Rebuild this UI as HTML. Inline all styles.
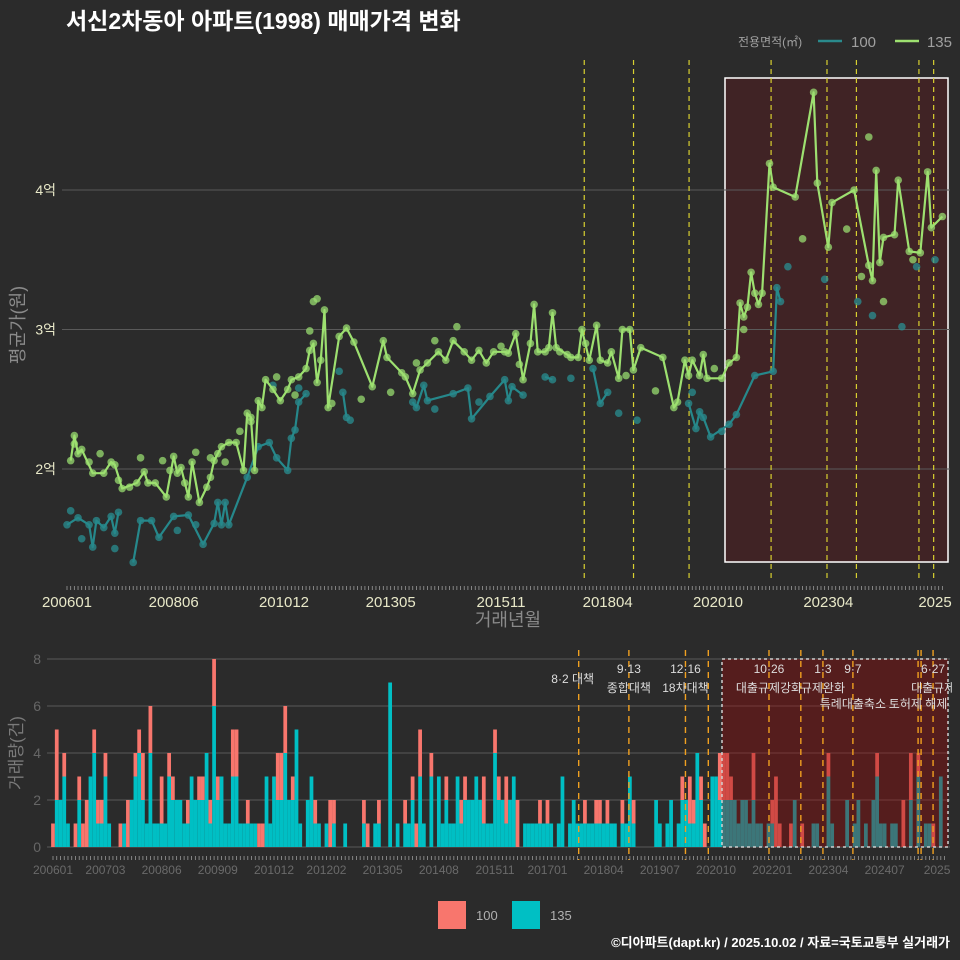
<!DOCTYPE html>
<html><head><meta charset="utf-8">
<style>
html,body{margin:0;padding:0;background:#2b2b2b;}
svg{display:block;font-family:"Liberation Sans","Noto Sans CJK KR",sans-serif;}
</style></head>
<body>
<svg id="chart" width="960" height="960" viewBox="0 0 960 960" xmlns="http://www.w3.org/2000/svg">
<rect x="0" y="0" width="960" height="960" fill="#2b2b2b"/>
<text x="66" y="29" fill="#ffffff" font-size="23" font-weight="bold">서신2차동아 아파트(1998) 매매가격 변화</text>
<g>
<text x="738" y="46" fill="#a0a0a0" font-size="12">전용면적(㎡)</text>
<line x1="818" y1="41" x2="842" y2="41" stroke="#2a8a8c" stroke-width="2.5"/>
<text x="851" y="47" fill="#a0a0a0" font-size="15">100</text>
<line x1="895" y1="41" x2="919" y2="41" stroke="#9de070" stroke-width="2.5"/>
<text x="952" y="47" fill="#a0a0a0" font-size="15" text-anchor="end">135</text>
</g>
<g id="topPanel"></g>
<g id="botPanel"></g>
<text transform="translate(24,325) rotate(-90)" fill="#8a8a8a" font-size="18" text-anchor="middle">평균가(원)</text>
<text x="508" y="626" fill="#8a8a8a" font-size="18" text-anchor="middle">거래년월</text>
<text transform="translate(22,753) rotate(-90)" fill="#7a7a7a" font-size="17" text-anchor="middle">거래량(건)</text>
<g>
<rect x="438" y="901" width="28" height="28" fill="#f8766d"/>
<text x="476" y="920" fill="#b0b0b0" font-size="13">100</text>
<rect x="512" y="901" width="28" height="28" fill="#00bfc4"/>
<text x="550" y="920" fill="#b0b0b0" font-size="13">135</text>
</g>
<text x="950" y="947" fill="#ffffff" font-size="13" font-weight="bold" text-anchor="end">©디아파트(dapt.kr) / 2025.10.02 / 자료=국토교통부 실거래가</text>
</svg>
<script>
// ---- data (month index from 2006-01) ----
const m135 = [1,2,3,4,7,10,12,13,15,19,21,22,24,27,29,30,31,33,34,36,38,39,40,41,42,44,46,48,49,50,51,52,53,54,56,58,60,61,63,65,66,67,68,69,70,71,74,76,78,83,86,87,91,92,94,96,98,101,103,105,108,110,112,114,116,119,120,122,124,126,127,128,130,131,132,133,136,137,139,140,142,144,145,147,148,150,151,153,154,156,162,165,166,168,169,170,172,173,174,178,180,182,183,184,185,186,187,188,189,191,192,198,203,204,207,208,214,218,219,220,221,222,225,226,229,232,234,235,238];
const p135 = [2.06,2.24,2.11,2.14,1.97,1.97,2.05,2.03,1.86,1.90,1.98,1.90,1.90,1.80,2.09,1.97,2.01,1.80,2.05,1.76,1.87,1.94,2.06,2.11,2.16,2.19,2.19,1.99,2.40,2.37,1.99,2.49,2.44,2.64,2.57,2.49,2.57,2.64,2.66,2.72,2.85,2.90,2.62,2.78,3.14,2.44,2.95,3.01,2.91,2.59,2.92,2.80,2.69,2.66,2.54,2.71,2.76,2.84,2.78,2.92,2.84,2.78,2.85,2.76,2.84,2.84,2.83,2.97,2.64,2.90,3.18,2.84,2.84,2.87,3.12,2.87,2.82,2.80,2.80,3.00,2.78,3.03,2.78,2.76,2.84,2.65,3.00,3.00,2.71,2.87,2.80,2.44,2.48,2.78,2.67,2.78,2.67,2.82,2.65,2.65,2.76,2.80,3.19,3.09,3.16,3.41,3.26,3.18,3.26,4.19,4.02,3.95,4.70,4.05,3.59,3.91,4.00,3.46,3.35,4.14,3.48,3.66,3.68,4.07,3.56,3.55,4.13,3.73,3.81];
const m100 = [0,3,6,7,8,10,12,13,14,null,18,20,23,25,29,33,37,40,41,42,43,44,49,52,55,57,60,61,62,63,65,null,75,76,null,94,95,97,98,105,109,110,115,119,120,121,124,null,130,132,null,143,145,147,null,169,171,172,173,175,180,182,187,192,193,194];
const p100 = [1.60,1.65,1.60,1.44,1.63,1.58,1.66,1.54,1.69,null,1.33,1.63,1.63,1.51,1.66,1.67,1.46,1.61,1.76,1.60,1.76,1.60,1.94,2.16,2.19,2.08,1.99,2.22,2.28,2.48,2.54,null,2.55,2.37,null,2.48,2.44,2.60,2.49,2.54,2.58,2.36,2.52,2.64,2.49,2.59,2.53,null,2.66,2.64,null,2.72,2.47,2.55,null,2.47,2.29,2.41,2.37,2.23,2.32,2.39,2.67,2.70,3.30,3.20];
const xm135 = [2,6,9,14,17,20,26,28,32,35,39,43,47,50,57,62,66,67,68,72,80,88,95,100,106,118,123,134,141,152,160,176,184,200,212,216,218,222,230];
const xp135 = [2.18,2.05,2.11,1.92,1.87,2.08,2.06,1.99,1.90,2.12,2.08,2.05,2.27,2.34,2.66,2.53,2.99,3.20,3.22,2.47,2.50,2.55,2.76,2.92,3.02,2.88,2.75,2.84,2.90,2.67,2.56,2.72,3.00,3.65,3.72,3.38,4.38,3.20,3.50];
const xm100 = [1,4,13,30,35,56,63,74,77,100,112,137,150,155,170,178,196,206,215,219,227,231,236];
const xp100 = [1.70,1.50,1.43,1.56,1.60,2.60,2.58,2.70,2.35,2.43,2.48,2.65,2.40,2.35,2.55,2.27,3.45,3.36,3.20,3.10,3.02,3.45,3.50];
const yTicks = [2,3,4];
const yTickLabels = ["2억","3억","4억"];
const xTickMonths = [0,29,59,88,118,147,177,207,236];
const xTickLabels = ["200601","200806","201012","201305","201511","201804","202010","202304","2025"];
const c100 = [1,3,0,1,0,0,1,1,1,2, 0,1,1,1,1,0,0,0,1,0, 2,0,1,1,2,0,2,0,0,2, 0,1,1,0,0,0,1,0,0,1, 1,0,1,2,1,0,0,0,2,2, 0,0,1,0,0,1,1,0,0,0, 2,2,2,0,1,0,0,0,0,0, 1,0,0,0,2,1,0,0,0,0, 0,0,0,1,1,0,0,1,0,0, 0,0,0,0,1,0,1,1,2,0, 0,1,0,0,0,1,0,0,0,1, 1,0,0,0,0,2,0,0,1,1, 0,2,0,0,2,0,0,0,0,0, 1,0,1,0,0,0,0,0,0,0, 0,0,1,0,0,1,1,0,1,0, 0,0,1,0,0,1,0,0,0,0, 0,0,0,0,0,0,0,0,1,0, 2,1,0,1,1,0,0,0,2,2, 2,1,0,0,0,0,0,2,0,0, 0,0,1,3,1,0,0,1,0,0, 1,0,0,0,0,0,0,1,0,0, 0,0,0,0,0,0,0,0,0,0, 1,0,0,0,0,0,0,2,0,2, 0,1,0,0,0,1,0,0];
const c135 = [0,2,2,3,1,0,0,2,0,0, 3,4,1,1,3,1,0,0,0,1, 0,2,3,4,2,1,4,1,1,1, 1,3,2,2,2,1,1,3,2,2, 2,4,1,6,2,3,1,1,3,3, 1,1,1,1,1,0,0,3,1,3, 2,2,4,2,2,5,1,0,2,3, 1,1,0,1,0,1,0,0,1,0, 0,0,0,1,0,0,1,1,0,0, 7,0,1,0,1,1,2,0,3,1, 0,3,0,3,1,2,1,1,3,1, 2,2,2,3,2,1,1,1,4,2, 2,1,2,3,0,0,1,1,1,1, 1,1,1,1,0,1,3,0,1,2, 1,1,1,1,1,1,1,1,1,1, 1,0,1,1,3,1,0,0,0,0, 0,2,1,0,1,2,0,1,2,2, 1,1,4,2,0,0,3,3,2,2, 2,2,2,1,2,2,1,2,1,1, 0,1,1,0,0,0,0,0,2,0, 0,0,0,1,1,0,0,3,1,0, 0,0,2,0,1,2,0,1,0,2, 3,1,1,0,1,1,0,0,0,2, 0,3,0,1,1,0,0,3];
const vTicks = [0,2,4,6,8];
const vTickMonths = [0,14,29,44,59,73,88,103,118,132,147,162,177,192,207,222,236];
const vTickLabels = ["200601","200703","200806","200909","201012","201202","201305","201408","201511","201701","201804","201907","202010","202201","202304","202407","2025"];
const topEvents = [139.0,152.4,167.5,189.8,205.0,213.0,230.0,234.0];
const botEvents = [139.0,152.4,167.5,173.6,189.8,198.3,204.2,212.2,229.6,230.4,233.6];
const eventTitles = ["8·2 대책","9·13","12·16","10·26","1·3","9·7","6·27"];
const eventMonths = [139.0,152.4,167.5,189.8,204.2,212.2,233.6];
const eventSubs = ["","종합대책","18차대책","대출규제강화","규제완화","특례대출축소",""];

const NS="http://www.w3.org/2000/svg";
function mk(parent,tag,attrs){const e=document.createElementNS(NS,tag);for(const k in attrs)e.setAttribute(k,attrs[k]);parent.appendChild(e);return e;}
const xT = m => 67 + m*3.678;
const yT = v => 190 + (4 - v)*139.5;
const xB = m => 53 + m*3.746;
const yB = v => 847 - v*23.5;
const evT = m => xT(m) + 6;
const evB = m => xB(m) + 5;

const topG=document.getElementById('topPanel');
const botG=document.getElementById('botPanel');

// ---- top panel ----
let r=mk(topG,'rect',{x:725,y:78,width:223,height:484,fill:'rgba(140,10,20,0.22)',stroke:'#ffffff','stroke-width':1.5});


yTicks.forEach((v,i)=>{
  const l=mk(topG,'line',{x1:62,x2:950,y1:yT(v),y2:yT(v),stroke:'#5a5a5a','stroke-width':1});
  
  
  const t=mk(topG,'text',{x:56,y:yT(v)+5,fill:'#e8e8c8','font-size':14,'text-anchor':'end'});
  t.textContent=yTickLabels[i];
  
  
});
for(let m=0;m<=238;m++){
  const l=mk(topG,'line',{x1:xT(m),x2:xT(m),y1:586,y2:590,stroke:'#9a9a9a','stroke-width':0.8});
  
  
}
xTickMonths.forEach((m,i)=>{
  const t=mk(topG,'text',{x:xT(m),y:607,fill:'#e8e8c8','font-size':15,'text-anchor':'middle'});
  t.textContent=xTickLabels[i];
  
  
});
topEvents.forEach(m=>{
  const l=mk(topG,'line',{x1:evT(m),x2:evT(m),y1:60,y2:580,stroke:'#d8d030','stroke-width':1.2,'stroke-dasharray':'5,4'});
  
  
});
function drawSeries(ms,ps,xms,xps,lineColor,ptColor,name){
  let d='',pen=false;
  ms.forEach((m,i)=>{ if(m===null||ps[i]===null){pen=false;return;} d+=(pen?'L':'M')+xT(m).toFixed(1)+','+yT(ps[i]).toFixed(1); pen=true; });
  xms.forEach((m,i)=>{
    const c=mk(topG,'circle',{cx:xT(m),cy:yT(xps[i]),r:3.8,fill:ptColor,opacity:0.75});
    
    
  });
  ms.forEach((m,i)=>{ if(m===null)return;
    const c=mk(topG,'circle',{cx:xT(m),cy:yT(ps[i]),r:3.8,fill:ptColor,opacity:0.75});
    
    
  });
  const p=mk(topG,'path',{d:d,fill:'none',stroke:lineColor,'stroke-width':2.2,'stroke-linejoin':'round'});
  
  
}
drawSeries(m100,p100,xm100,xp100,'#26888b','#2a8f92','100');
drawSeries(m135,p135,xm135,xp135,'#9de070','#98dc70','135');

// ---- bottom panel ----
vTicks.forEach(v=>{
  const l=mk(botG,'line',{x1:47,x2:950,y1:yB(v),y2:yB(v),stroke:'#5a5a5a','stroke-width':1});
  
  
  const t=mk(botG,'text',{x:41,y:yB(v)+5,fill:'#666666','font-size':14,'text-anchor':'end'});
  t.textContent=v;
  
  
});
const bw=3.746;
c135.forEach((c,i)=>{
  if(c>0){const b=mk(botG,'rect',{x:xB(i)-bw/2,y:yB(c),width:bw,height:c*23.5,fill:'#00bfc4'});
  
  }
  const c1=c100[i];
  if(c1>0){const b=mk(botG,'rect',{x:xB(i)-bw/2,y:yB(c+c1),width:bw,height:c1*23.5,fill:'#f8766d'});
  
  }
});
r=mk(botG,'rect',{x:722,y:659,width:226,height:188,fill:'rgba(150,10,10,0.4)',stroke:'#cfcfcf','stroke-width':1.5,'stroke-dasharray':'3,3'});


botEvents.forEach(m=>{
  const l=mk(botG,'line',{x1:evB(m),x2:evB(m),y1:650,y2:860,stroke:'#f0a020','stroke-width':1.4,'stroke-dasharray':'6,5'});
  
  
});
eventMonths.forEach((m,i)=>{
  const first = i===0;
  const t=mk(botG,'text',{x:evB(m)-(first?6:0),y:first?683:673,fill:'#dddddd','font-size':12,'text-anchor':'middle'});
  t.textContent=eventTitles[i];
  
  
  if(eventSubs[i]){
    const y = i===5?708:692;
    const s=mk(botG,'text',{x:evB(m),y:y,fill:'#dddddd','font-size':12,'text-anchor':'middle'});
    s.textContent=eventSubs[i];
    
    
  }
});
let t2=mk(botG,'text',{x:evB(229.6),y:708,fill:'#dddddd','font-size':12,'text-anchor':'middle'});
t2.textContent='토허제 해제';


t2=mk(botG,'text',{x:evB(233.6)-22,y:692,fill:'#dddddd','font-size':12});
t2.textContent='대출규제';


for(let m=0;m<=238;m++){
  const l=mk(botG,'line',{x1:xB(m),x2:xB(m),y1:856,y2:860,stroke:'#9a9a9a','stroke-width':0.8});
  
  
}
vTickMonths.forEach((m,i)=>{
  const t=mk(botG,'text',{x:xB(m),y:874,fill:'#6a6a6a','font-size':12,'text-anchor':'middle'});
  t.textContent=vTickLabels[i];
  
  
});
const cover=mk(document.getElementById('chart'),'rect',{x:952,y:640,width:8,height:250,fill:'#2b2b2b'});


</script>
</body></html>
